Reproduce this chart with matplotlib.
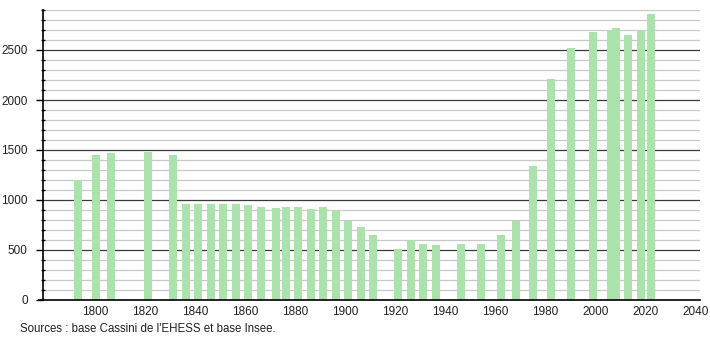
import matplotlib
matplotlib.use("Agg")
import matplotlib.pyplot as plt
import numpy as np

years = [1793, 1800, 1806, 1821, 1831, 1836, 1841, 1846, 1851, 1856, 1861, 1866,
         1872, 1876, 1881, 1886, 1891, 1896, 1901, 1906, 1911, 1921, 1926, 1931,
         1936, 1946, 1954, 1962, 1968, 1975, 1982, 1990, 1999, 2006, 2008, 2013,
         2018, 2022]
population = [1200, 1450, 1467, 1477, 1450, 960, 960, 960, 960, 960, 950, 927,
              917, 927, 927, 907, 927, 890, 790, 727, 647, 510, 597, 560,
              547, 560, 557, 650, 793, 1340, 2207, 2517, 2680, 2705, 2720, 2650,
              2697, 2857]
x_ticks = [1800, 1820, 1840, 1860, 1880, 1900, 1920, 1940, 1960, 1980, 2000, 2020, 2040]
y_ticks = [0, 500, 1000, 1500, 2000, 2500]
source = "Sources : base Cassini de l'EHESS et base Insee."

plt.rcParams['font.family'] = ['Liberation Sans', 'DejaVu Sans']

W, H = 710, 340
fig = plt.figure(figsize=(W / 100, H / 100), dpi=100)
ax = fig.add_axes([43 / W, 40 / H, (700 - 43) / W, 290 / H])

ax.set_xlim(1779, 2041.8)
ax.set_ylim(0, 2900)

# grid
for v in range(100, 2901, 100):
    if v % 500 == 0:
        ax.axhline(v, color='#3a3a3a', lw=0.9, zorder=1)
    else:
        ax.axhline(v, color='#c8c8c8', lw=0.9, zorder=1)

ax.bar(years, population, width=3.2, color='#ace3ac', zorder=2, linewidth=0)

for s in ['top', 'right']:
    ax.spines[s].set_visible(False)
ax.spines['left'].set_color('black')
ax.spines['left'].set_linewidth(1.2)
ax.spines['bottom'].set_color('black')
ax.spines['bottom'].set_linewidth(1.2)
# x-axis line extends slightly left of the y-axis
ax.plot([-0.008, 0], [0, 0], transform=ax.transAxes, color='black', lw=1.2,
        clip_on=False, zorder=5, solid_capstyle='butt')

ax.set_yticks(y_ticks)
ax.set_yticks(range(0, 2901, 100), minor=True)
ax.tick_params(axis='y', which='major', length=5, width=1.0, direction='out',
               labelsize=8.5, pad=6, color='black')
ax.tick_params(axis='y', which='minor', length=3, width=1.0, direction='inout', color='black')
ax.set_xticks(x_ticks)
ax.set_xticklabels([str(t) for t in x_ticks])
ax.tick_params(axis='x', which='major', length=0, labelsize=8.5, pad=4, colors='#222222')
ax.tick_params(axis='y', labelcolor='#222222')

fig.text(20 / W, 1 - 329 / H, source, fontsize=8.3, color='#222222', va='center', ha='left')

fig.savefig("out.png", dpi=100)
